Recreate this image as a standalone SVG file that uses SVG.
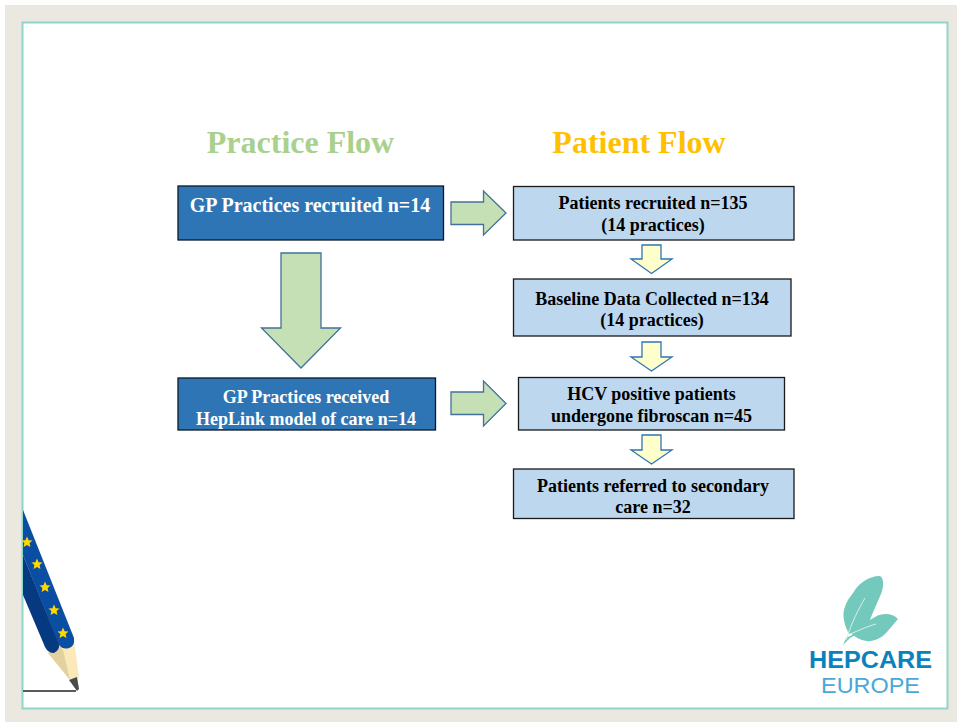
<svg xmlns="http://www.w3.org/2000/svg" width="957" height="722" viewBox="0 0 957 722">
<style>
text{font-family:"Liberation Serif","Times New Roman",serif;font-weight:bold;text-anchor:middle}
.t{font-size:18px;fill:#000}
.w{font-size:18px;fill:#fff}
.w1{font-size:20px;fill:#fff}
.h{font-size:32px}
.dk{fill:#2e75b6;stroke:#0b1a2a;stroke-width:1.3}
.lt{fill:#bdd7ee;stroke:#1a1a1a;stroke-width:1.3}
.g{fill:#c5e0b4;stroke:#41719c;stroke-width:1.3}
.y{fill:#ffffcc;stroke:#2e75b6;stroke-width:1.3}
</style>
<defs><path id="star" d="M0-5.500L1.600-1.800 5.500-1.500 2.600 1.100 3.400 5 0 3 -3.400 5 -2.600 1.100 -5.500-1.500 -1.600-1.800Z" fill="#ffd800"/></defs>
<rect width="957" height="722" fill="#fff"/>
<rect x="5" y="5" width="952" height="717" fill="#ebe8e1"/>
<rect x="22.500" y="22.500" width="925" height="686" fill="#fff" stroke="#8fd6c8" stroke-width="2"/>
<g id="pencil">
<path d="M74 640L79 678L70 680L48 653L59 645Z" fill="#fbe9b9"/>
<path d="M48 653L59 645L63 650L70 680Z" fill="#e3d19f"/>
<path d="M69 680L77 677L79 689L77 691Z" fill="#4a4a4a"/>
<path d="M23 691H76" fill="none" stroke="#5a5a5a" stroke-width="2"/>
<path d="M23 510L74 638Q75 646 69 648Q63 650 59 645L23 555Z" fill="#0a4ea3"/>
<path d="M23 555L59 644Q60 650 54 653Q48 653 45 647L23 595Z" fill="#063a80"/>
<use href="#star" x="27" y="542"/>
<use href="#star" x="37" y="564"/>
<use href="#star" x="45" y="587"/>
<use href="#star" x="54" y="610"/>
<use href="#star" x="63" y="633"/>
</g>
<g id="logo">
<path d="M875 617C884 612 893 614 898 619C894 624 890 628 887 632C880 640 870 643 862 640C856 638 852 634 849 632Z" fill="#73c9bc"/>
<path d="M880 576C868 576 858 584 853 593C846 602 842 610 844 620C845 626 847 630 849 634C856 630 864 626 869 622C873 612 877 603 881 594C884 587 884 578 880 576Z" fill="#73c9bc"/>
<path d="M843 645L846 638L852 635L868 628L850 638L846 642Z" fill="#73c9bc"/>
<path d="M846 640C852 622 858 610 865 598M850 634C860 630 868 626 876 624" fill="none" stroke="#d5f0ea" stroke-width="1"/>
<text x="870.500" y="668" style="font-family:'Liberation Sans',sans-serif;font-weight:bold;font-size:23px" fill="#0a83bd" textLength="123" lengthAdjust="spacingAndGlyphs">HEPCARE</text>
<text x="870.500" y="693" style="font-family:'Liberation Sans',sans-serif;font-weight:normal;font-size:22.500px" fill="#4aa8d8" textLength="99" lengthAdjust="spacingAndGlyphs">EUROPE</text>
</g>
<text class="h" x="300.500" y="153" fill="#a9d18e">Practice Flow</text>
<text class="h" x="639" y="153" fill="#ffc000">Patient Flow</text>
<g id="connectors">
<path class="g" d="M281 253H321V328H340.500L301 368L261.500 328H281Z"/>
<path class="g" d="M451 202H483.500V191L506 213L483.500 235V224.500H451Z"/>
<path class="g" d="M451 392H483.500V381L506 403.500L483.500 426V414.500H451Z"/>
<path class="y" d="M642 245H661V259H672L651.500 273.500L631 259H642Z"/>
<path class="y" d="M642 342H661V357H672L651.500 371L631 357H642Z"/>
<path class="y" d="M642 435H661V450H672L651.500 464L631 450H642Z"/>
</g>
<g id="n1"><rect class="dk" x="178" y="186" width="265.500" height="54"/><text class="w1" x="310" y="212">GP Practices recruited n=14</text></g>
<g id="n2"><rect class="dk" x="178" y="378" width="257.500" height="52"/><text class="w" x="306" y="403">GP Practices received</text><text class="w" x="306" y="425">HepLink model of care n=14</text></g>
<g id="n3"><rect class="lt" x="513.500" y="186.500" width="280.500" height="53.500"/><text class="t" x="653" y="209">Patients recruited n=135</text><text class="t" x="653" y="231">(14 practices)</text></g>
<g id="n4"><rect class="lt" x="513.500" y="279" width="277.500" height="57"/><text class="t" x="652" y="305">Baseline Data Collected n=134</text><text class="t" x="652" y="326">(14 practices)</text></g>
<g id="n5"><rect class="lt" x="518.500" y="377.500" width="266" height="52.500"/><text class="t" x="651.500" y="400">HCV positive patients</text><text class="t" x="651.500" y="422">undergone fibroscan n=45</text></g>
<g id="n6"><rect class="lt" x="513.500" y="469" width="280.500" height="49.500"/><text class="t" x="653" y="492">Patients referred to secondary</text><text class="t" x="653" y="513">care n=32</text></g>
</svg>
